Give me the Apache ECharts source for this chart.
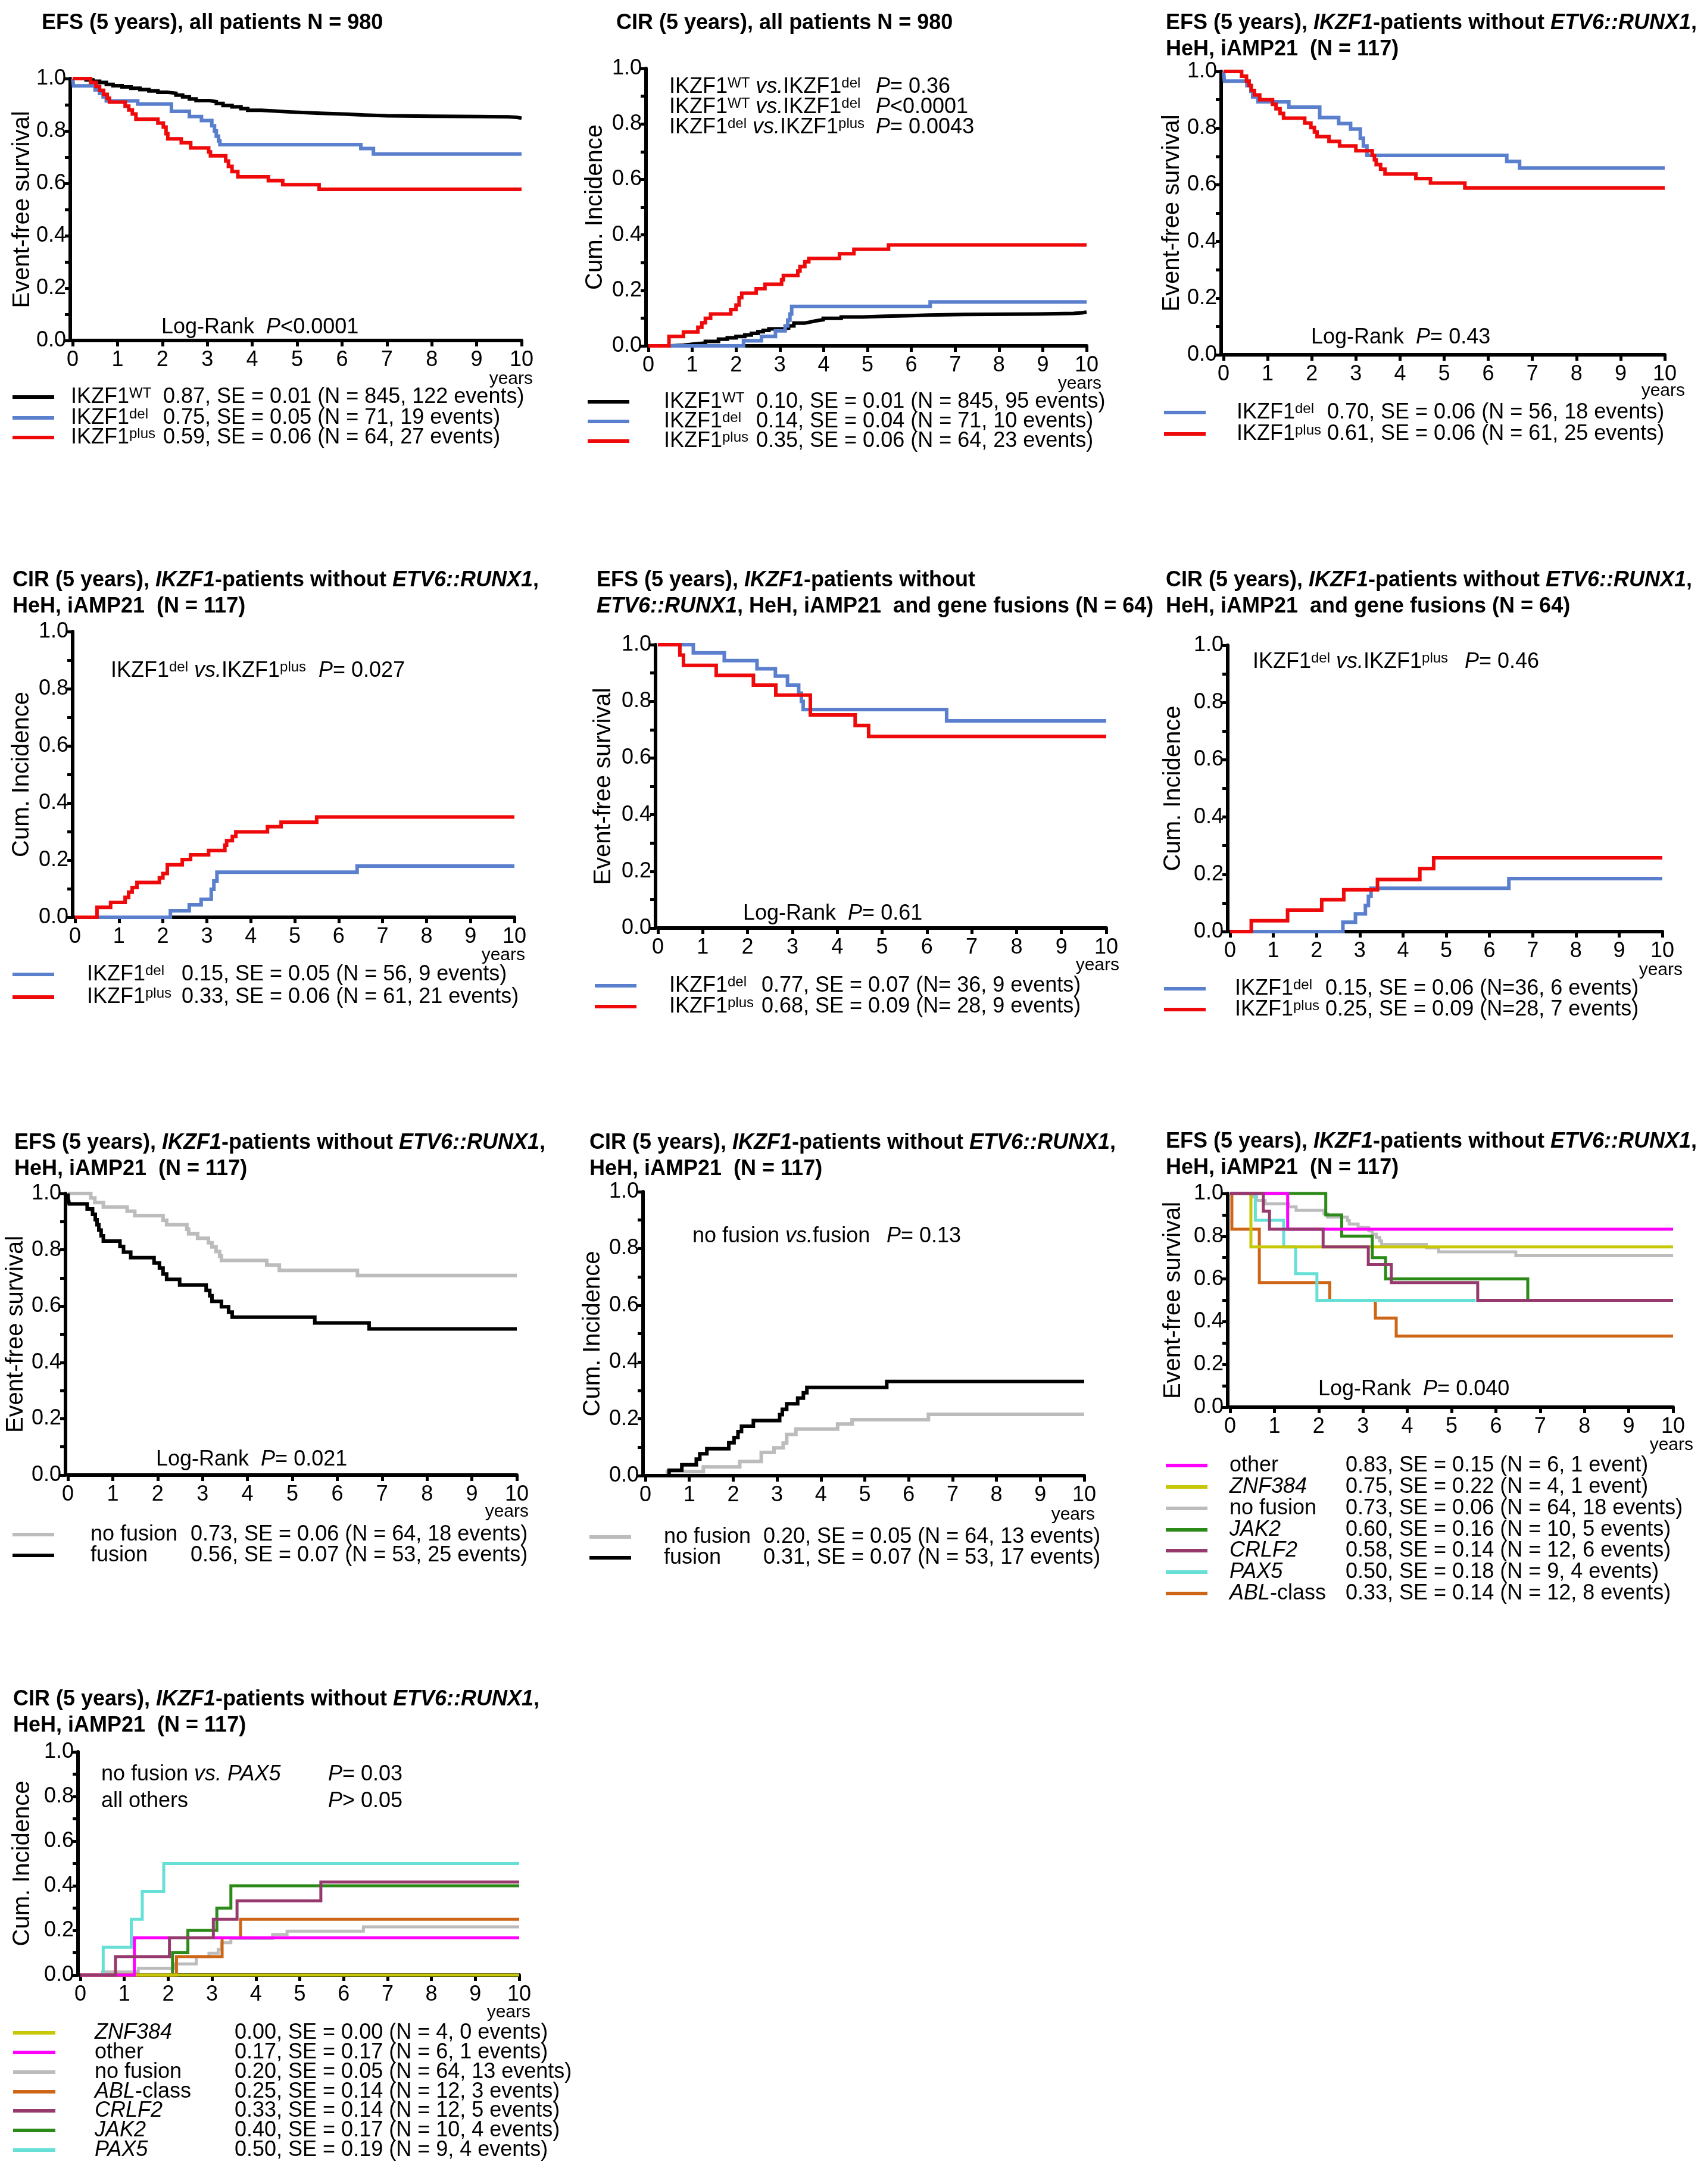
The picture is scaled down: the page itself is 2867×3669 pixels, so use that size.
<!DOCTYPE html>
<html><head><meta charset="utf-8">
<script src="https://cdn.jsdelivr.net/npm/echarts/dist/echarts.min.js"></script>
<style>html,body{margin:0;padding:0;background:#fff}#c{width:2867px;height:3669px}</style>
</head><body><div id="c"></div>
<script>
// ---------------- DATA (time in years, probability) ----------------
const xTicks = [0,1,2,3,4,5,6,7,8,9,10];
// Panel 1: EFS all patients
const efsAll_wt = [[0,1],[0.3,0.995],[0.45,0.99],[0.6,0.985],[0.75,0.978],[0.9,0.973],[1.1,0.968],[1.3,0.963],[1.5,0.958],[1.7,0.953],[1.9,0.948],[2.1,0.944],[2.3,0.937],[2.45,0.93],[2.6,0.922],[2.75,0.916],[3.05,0.912],[3.2,0.905],[3.35,0.897],[3.55,0.892],[3.75,0.885],[3.9,0.879],[4.2,0.876],[4.5,0.873],[4.8,0.87],[5.2,0.867],[5.6,0.864],[6.1,0.861],[6.5,0.858],[7.0,0.856],[8.0,0.855],[9.0,0.854],[9.7,0.852],[9.9,0.849],[10,0.849]];
const efsAll_del = [[0,1],[0.02,0.972],[0.5,0.957],[0.6,0.943],[0.68,0.93],[0.75,0.915],[1.45,0.903],[2.2,0.875],[2.6,0.855],[2.87,0.84],[3.1,0.82],[3.16,0.8],[3.2,0.78],[3.25,0.762],[3.28,0.748],[6.42,0.733],[6.7,0.712],[10,0.712]];
const efsAll_plus = [[0,1],[0.4,0.985],[0.52,0.97],[0.6,0.955],[0.69,0.94],[0.77,0.925],[0.82,0.91],[1.17,0.895],[1.25,0.88],[1.33,0.865],[1.41,0.845],[1.9,0.83],[2.02,0.815],[2.08,0.79],[2.12,0.77],[2.42,0.755],[2.63,0.735],[3.03,0.72],[3.07,0.705],[3.41,0.685],[3.47,0.665],[3.55,0.645],[3.68,0.625],[4.36,0.61],[4.68,0.595],[5.49,0.577],[10,0.577]];
// Panel 2: CIR all patients
const cirAll_wt = [[0,0],[0.5,0.002],[0.8,0.006],[1.0,0.01],[1.3,0.016],[1.6,0.024],[1.8,0.029],[2.0,0.034],[2.2,0.039],[2.35,0.045],[2.5,0.051],[2.62,0.056],[2.75,0.061],[3.08,0.064],[3.2,0.072],[3.32,0.082],[3.57,0.086],[3.7,0.09],[3.82,0.094],[3.99,0.099],[4.4,0.104],[4.9,0.107],[5.4,0.109],[6.0,0.111],[6.4,0.113],[7.2,0.115],[8.9,0.117],[9.7,0.119],[9.9,0.122],[10,0.122]];
const cirAll_del = [[0,0],[2.17,0.018],[2.58,0.034],[2.9,0.054],[3.12,0.072],[3.18,0.093],[3.23,0.115],[3.27,0.142],[6.43,0.158],[10,0.158]];
const cirAll_plus = [[0,0],[0.47,0.034],[0.8,0.05],[1.13,0.067],[1.22,0.083],[1.3,0.099],[1.42,0.115],[1.88,0.131],[2.0,0.147],[2.07,0.174],[2.13,0.19],[2.46,0.206],[2.66,0.222],[3.04,0.238],[3.08,0.254],[3.41,0.27],[3.46,0.286],[3.57,0.303],[3.66,0.315],[4.36,0.332],[4.69,0.348],[5.48,0.364],[10,0.364]];
// Panel 3: EFS N=117
const efs117_del = [[0,1],[0.02,0.966],[0.53,0.95],[0.62,0.93],[0.66,0.91],[0.78,0.893],[1.48,0.874],[2.18,0.837],[2.61,0.816],[2.88,0.797],[3.1,0.764],[3.17,0.737],[3.25,0.704],[6.42,0.682],[6.71,0.659],[10,0.659]];
const efs117_plus = [[0,1],[0.41,0.983],[0.52,0.966],[0.58,0.95],[0.63,0.933],[0.7,0.917],[0.82,0.9],[1.11,0.884],[1.19,0.868],[1.28,0.852],[1.36,0.835],[1.84,0.818],[1.98,0.802],[2.06,0.786],[2.12,0.77],[2.39,0.753],[2.63,0.737],[3.0,0.72],[3.37,0.704],[3.42,0.688],[3.46,0.671],[3.56,0.655],[3.66,0.638],[4.36,0.622],[4.69,0.606],[5.47,0.589],[10,0.589]];
// Panel 4: CIR N=117
const cir117_del = [[0,0],[2.17,0.023],[2.6,0.044],[2.87,0.063],[3.1,0.098],[3.16,0.127],[3.23,0.158],[6.42,0.179],[10,0.179]];
const cir117_plus = [[0,0],[0.5,0.035],[0.81,0.052],[1.14,0.07],[1.22,0.088],[1.3,0.104],[1.41,0.122],[1.92,0.138],[2.0,0.153],[2.1,0.184],[2.44,0.202],[2.63,0.219],[3.04,0.234],[3.41,0.252],[3.45,0.268],[3.58,0.283],[3.66,0.299],[4.38,0.317],[4.69,0.333],[5.5,0.351],[10,0.351]];
// Panel 5: EFS N=64
const efs64_del = [[0,1],[0.79,0.971],[1.48,0.944],[2.21,0.915],[2.62,0.889],[2.89,0.857],[3.14,0.829],[3.2,0.8],[3.24,0.771],[6.44,0.731],[10,0.731]];
const efs64_plus = [[0,1],[0.49,0.963],[0.57,0.927],[1.3,0.892],[2.13,0.857],[2.63,0.822],[3.4,0.752],[4.4,0.715],[4.7,0.676],[10,0.676]];
// Panel 6: CIR N=64
const cir64_del = [[0,0],[2.61,0.033],[2.9,0.062],[3.13,0.091],[3.2,0.123],[3.26,0.151],[6.45,0.185],[10,0.185]];
const cir64_plus = [[0,0],[0.49,0.038],[1.33,0.075],[2.12,0.111],[2.63,0.146],[3.41,0.182],[4.39,0.22],[4.71,0.258],[10,0.258]];
// Panel 7: EFS fusion vs no fusion
const efsFus_none = [[0,1],[0.51,0.984],[0.6,0.968],[0.79,0.952],[1.32,0.937],[1.49,0.921],[2.12,0.905],[2.2,0.889],[2.65,0.873],[2.69,0.857],[2.89,0.841],[3.13,0.825],[3.21,0.81],[3.3,0.794],[3.38,0.778],[3.42,0.762],[4.43,0.746],[4.71,0.727],[6.45,0.709],[10,0.709]];
const efsFus_fus = [[0,1],[0.01,0.981],[0.03,0.963],[0.43,0.945],[0.55,0.926],[0.61,0.907],[0.65,0.889],[0.69,0.87],[0.74,0.85],[0.79,0.831],[1.16,0.812],[1.24,0.792],[1.4,0.772],[1.92,0.753],[2.04,0.735],[2.12,0.714],[2.2,0.695],[2.49,0.675],[3.08,0.656],[3.16,0.637],[3.21,0.617],[3.42,0.598],[3.58,0.579],[3.66,0.561],[5.5,0.54],[6.71,0.519],[10,0.519]];
// Panel 8: CIR fusion vs no fusion
const cirFus_none = [[0,0],[0.5,0.014],[1.32,0.031],[2.15,0.05],[2.64,0.082],[2.93,0.098],[3.14,0.115],[3.22,0.145],[3.43,0.164],[4.38,0.182],[4.71,0.197],[6.45,0.216],[10,0.216]];
const cirFus_fus = [[0,0],[0.54,0.019],[0.83,0.038],[1.16,0.058],[1.24,0.077],[1.4,0.095],[1.9,0.116],[2.02,0.134],[2.11,0.155],[2.19,0.174],[2.46,0.194],[3.06,0.215],[3.12,0.234],[3.22,0.253],[3.47,0.273],[3.6,0.292],[3.68,0.311],[5.5,0.332],[10,0.332]];
// Panel 9: EFS by fusion subtype
const efsSub_other = [[0,1],[1.30,0.833],[10,0.833]];
const efsSub_znf = [[0,1],[0.47,0.75],[10,0.75]];
const efsSub_jak2 = [[0,1],[2.16,0.9],[2.52,0.8],[3.21,0.7],[3.51,0.6],[6.72,0.5]];
const efsSub_crlf2 = [[0,1],[0.75,0.917],[0.89,0.833],[2.1,0.75],[3.12,0.667],[3.64,0.583],[5.59,0.5],[10,0.5]];
const efsSub_pax5 = [[0,1],[0.57,0.875],[1.21,0.75],[1.48,0.625],[1.96,0.5],[5.54,0.5]];
const efsSub_abl = [[0,1],[0.04,0.833],[0.66,0.583],[2.25,0.5],[3.28,0.417],[3.75,0.333],[10,0.333]];
// Panel 10: CIR by fusion subtype
const cirSub_znf = [[0,0],[10,0]];
const cirSub_other = [[0,0],[1.23,0.167],[10,0.167]];
const cirSub_abl = [[0,0],[2.19,0.083],[3.23,0.167],[3.65,0.25],[10,0.25]];
const cirSub_crlf2 = [[0,0],[0.8,0.083],[2.03,0.167],[3.03,0.25],[3.57,0.333],[5.48,0.417],[10,0.417]];
const cirSub_jak2 = [[0,0],[2.1,0.1],[2.45,0.2],[3.11,0.3],[3.43,0.4],[10,0.4]];
const cirSub_pax5 = [[0,0],[0.52,0.125],[1.16,0.25],[1.41,0.375],[1.9,0.5],[10,0.5]];

// Legend entries: [colour key, label, value text]
const lg_efsAll = [['black','IKZF1{sup|WT}','0.87, SE = 0.01 (N = 845, 122 events)'],['blue','IKZF1{sup|del}','0.75, SE = 0.05 (N = 71, 19 events)'],['red','IKZF1{sup|plus}','0.59, SE = 0.06 (N = 64, 27 events)']];
const lg_cirAll = [['black','IKZF1{sup|WT}','0.10, SE = 0.01 (N = 845, 95 events)'],['blue','IKZF1{sup|del}','0.14, SE = 0.04 (N = 71, 10 events)'],['red','IKZF1{sup|plus}','0.35, SE = 0.06 (N = 64, 23 events)']];
const lg_efs117 = [['blue','IKZF1{sup|del}','0.70, SE = 0.06 (N = 56, 18 events)'],['red','IKZF1{sup|plus}','0.61, SE = 0.06 (N = 61, 25 events)']];
const lg_cir117 = [['blue','IKZF1{sup|del}','0.15, SE = 0.05 (N = 56, 9 events)'],['red','IKZF1{sup|plus}','0.33, SE = 0.06 (N = 61, 21 events)']];
const lg_efs64 = [['blue','IKZF1{sup|del}','0.77, SE = 0.07 (N= 36, 9 events)'],['red','IKZF1{sup|plus}','0.68, SE = 0.09 (N= 28, 9 events)']];
const lg_cir64 = [['blue','IKZF1{sup|del}','0.15, SE = 0.06 (N=36, 6 events)'],['red','IKZF1{sup|plus}','0.25, SE = 0.09 (N=28, 7 events)']];
const lg_efsFus = [['gray','no fusion','0.73, SE = 0.06 (N = 64, 18 events)'],['black','fusion','0.56, SE = 0.07 (N = 53, 25 events)']];
const lg_cirFus = [['gray','no fusion','0.20, SE = 0.05 (N = 64, 13 events)'],['black','fusion','0.31, SE = 0.07 (N = 53, 17 events)']];
const lg_efsSub = [['magenta','other','0.83, SE = 0.15 (N = 6, 1 event)'],['yellow','{i|ZNF384}','0.75, SE = 0.22 (N = 4, 1 event)'],['gray','no fusion','0.73, SE = 0.06 (N = 64, 18 events)'],['green','{i|JAK2}','0.60, SE = 0.16 (N = 10, 5 events)'],['purple','{i|CRLF2}','0.58, SE = 0.14 (N = 12, 6 events)'],['cyan','{i|PAX5}','0.50, SE = 0.18 (N = 9, 4 events)'],['orange','{i|ABL}-class','0.33, SE = 0.14 (N = 12, 8 events)']];
const lg_cirSub = [['yellow','{i|ZNF384}','0.00, SE = 0.00 (N = 4, 0 events)'],['magenta','other','0.17, SE = 0.17 (N = 6, 1 events)'],['gray','no fusion','0.20, SE = 0.05 (N = 64, 13 events)'],['orange','{i|ABL}-class','0.25, SE = 0.14 (N = 12, 3 events)'],['purple','{i|CRLF2}','0.33, SE = 0.14 (N = 12, 5 events)'],['green','{i|JAK2}','0.40, SE = 0.17 (N = 10, 4 events)'],['cyan','{i|PAX5}','0.50, SE = 0.19 (N = 9, 4 events)']];

// ---------------- STYLE / LAYOUT ----------------
const F = "'Liberation Sans', Arial, Helvetica, sans-serif";
const C = {black:'#000000', blue:'#5a7fcd', red:'#ee0a0a', gray:'#bcbcbc', magenta:'#ff00ff', yellow:'#c8c80a', green:'#2c8a18', purple:'#963a6e', cyan:'#66e0d6', orange:'#cd6616'};
const RICH = {
  bi:{fontSize:36, fontFamily:F, fontWeight:'bold', fontStyle:'italic', lineHeight:36},
  i:{fontSize:36, fontFamily:F, fontStyle:'italic', lineHeight:36},
  sup:{fontSize:24, fontFamily:F, lineHeight:24, verticalAlign:'top'}
};
const T_EFS = 'EFS (5 years), {bi|IKZF1}-patients without {bi|ETV6::RUNX1},';
const T_CIR = 'CIR (5 years), {bi|IKZF1}-patients without {bi|ETV6::RUNX1},';
const T_L2 = 'HeH, iAMP21  (N = 117)';
const VS_DP = 'IKZF1{sup|del} {i|vs.}IKZF1{sup|plus}';

const panels = [
 {grid:{left:122,top:132,width:754,height:440}, yName:'Event-free survival', nameX:38,
  series:[[efsAll_wt,'black'],[efsAll_del,'blue'],[efsAll_plus,'red']],
  title:['EFS (5 years), all patients N = 980'], tx:70, ty:39,
  notes:[[271,550,'Log-Rank  {i|P}<0.0001']], years:[895,637],
  lg:{x1:21,x2:91,lx:119,vx:274,rows:[667,702,735],items:lg_efsAll}},
 {grid:{left:1089,top:115,width:736,height:466}, yName:'Cum. Incidence', nameX:1000,
  series:[[cirAll_wt,'black'],[cirAll_del,'blue'],[cirAll_plus,'red']],
  title:['CIR (5 years), all patients N = 980'], tx:1035, ty:39,
  notes:[[1124,146,'IKZF1{sup|WT} {i|vs.}IKZF1{sup|del}'],[1471,146,'{i|P}= 0.36'],
         [1124,180,'IKZF1{sup|WT} {i|vs.}IKZF1{sup|del}'],[1471,180,'{i|P}<0.0001'],
         [1124,214,VS_DP],[1471,214,'{i|P}= 0.0043']], years:[1850,645],
  lg:{x1:987,x2:1057,lx:1115,vx:1270,rows:[675,708,741],items:lg_cirAll}},
 {grid:{left:2055,top:120,width:741,height:476}, yName:'Event-free survival', nameX:1969,
  series:[[efs117_del,'blue'],[efs117_plus,'red']],
  title:[T_EFS,T_L2], tx:1958, ty:39,
  notes:[[2202,567,'Log-Rank  {i|P}= 0.43']], years:[2830,657],
  lg:{x1:1955,x2:2025,lx:2077,vx:2229,rows:[693,729],items:lg_efs117}},
 {grid:{left:126,top:1061,width:738,height:480}, yName:'Cum. Incidence', nameX:37,
  series:[[cir117_del,'blue'],[cir117_plus,'red']],
  title:[T_CIR,T_L2], tx:21, ty:975,
  notes:[[186,1127,VS_DP],[535,1127,'{i|P}= 0.027']], years:[882,1605],
  lg:{x1:21,x2:91,lx:146,vx:305,rows:[1637,1675],items:lg_cir117}},
 {grid:{left:1105,top:1083,width:753,height:476}, yName:'Event-free survival', nameX:1014,
  series:[[efs64_del,'blue'],[efs64_plus,'red']],
  title:['EFS (5 years), {bi|IKZF1}-patients without','{bi|ETV6::RUNX1}, HeH, iAMP21  and gene fusions (N = 64)'], tx:1002, ty:975,
  notes:[[1248,1535,'Log-Rank  {i|P}= 0.61']], years:[1880,1622],
  lg:{x1:999,x2:1069,lx:1124,vx:1279,rows:[1656,1691],items:lg_efs64}},
 {grid:{left:2066,top:1084,width:726,height:481}, yName:'Cum. Incidence', nameX:1971,
  series:[[cir64_del,'blue'],[cir64_plus,'red']],
  title:[T_CIR,'HeH, iAMP21  and gene fusions (N = 64)'], tx:1958, ty:975,
  notes:[[2104,1112,VS_DP],[2460,1112,'{i|P}= 0.46']], years:[2826,1630],
  lg:{x1:1955,x2:2025,lx:2074,vx:2226,rows:[1661,1696],items:lg_cir64}},
 {grid:{left:114,top:2005,width:754,height:473}, yName:'Event-free survival', nameX:27,
  series:[[efsFus_none,'gray'],[efsFus_fus,'black']],
  title:[T_EFS,T_L2], tx:24, ty:1920,
  notes:[[262,2452,'Log-Rank  {i|P}= 0.021']], years:[888,2540],
  lg:{x1:21,x2:91,lx:152,vx:320,rows:[2578,2613],items:lg_efsFus}},
 {grid:{left:1084,top:2002,width:737,height:477}, yName:'Cum. Incidence', nameX:996,
  series:[[cirFus_none,'gray'],[cirFus_fus,'black']],
  title:[T_CIR,T_L2], tx:990, ty:1920,
  notes:[[1163,2077,'no fusion {i|vs.}fusion'],[1489,2077,'{i|P}= 0.13']], years:[1839,2545],
  lg:{x1:990,x2:1060,lx:1115,vx:1282,rows:[2582,2617],items:lg_cirFus}},
 {grid:{left:2066,top:2005,width:744,height:359}, yName:'Event-free survival', nameX:1971, lw:5,
  series:[[efsFus_none,'gray'],[efsSub_abl,'orange'],[efsSub_pax5,'cyan'],[efsSub_znf,'yellow'],[efsSub_jak2,'green'],[efsSub_other,'magenta'],[efsSub_crlf2,'purple']],
  title:[T_EFS,T_L2], tx:1958, ty:1918,
  notes:[[2214,2334,'Log-Rank  {i|P}= 0.040']], years:[2844,2428],
  lg:{x1:1958,x2:2028,lx:2065,vx:2260,rows:[2462,2498,2534,2570,2605,2641,2677],items:lg_efsSub}},
 {grid:{left:135,top:2943,width:737,height:375}, yName:'Cum. Incidence', nameX:38, lw:5,
  series:[[cirFus_none,'gray'],[cirSub_pax5,'cyan'],[cirSub_jak2,'green'],[cirSub_abl,'orange'],[cirSub_znf,'yellow'],[cirSub_other,'magenta'],[cirSub_crlf2,'purple']],
  title:[T_CIR,T_L2], tx:22, ty:2855,
  notes:[[170,2981,'no fusion {i|vs. PAX5}'],[551,2981,'{i|P}= 0.03'],[170,3026,'all others'],[551,3026,'{i|P}> 0.05']], years:[891,3381],
  lg:{x1:22,x2:93,lx:159,vx:394,rows:[3415,3448,3481,3514,3546,3579,3612],items:lg_cirSub}}
];

function txt(x, y, text, o) {
  o = o || {};
  return {type:'text', x:x, y:y, rotation:o.rot||0, silent:true, z:100,
    style:{text:text, fontSize:o.size||36, fontFamily:F, fontWeight:o.bold?'bold':'normal',
      fill:'#000', align:o.align||'left', textAlign:o.align||'left',
      verticalAlign:'middle', textVerticalAlign:'middle', lineHeight:o.size||36, rich:RICH}};
}

const option = {animation:false, backgroundColor:'#ffffff', grid:[], xAxis:[], yAxis:[], series:[], graphic:{elements:[]}};
const G = option.graphic.elements;
panels.forEach(function(p, i) {
  option.grid.push(Object.assign({outerBoundsMode:'none', containLabel:false}, p.grid));
  option.xAxis.push({type:'value', gridIndex:i, min:xTicks[0], max:xTicks[xTicks.length-1], interval:1,
    axisLine:{show:true, onZero:false, lineStyle:{color:'#000', width:6}},
    axisTick:{show:true, inside:false, length:10, lineStyle:{color:'#000', width:5}},
    axisLabel:{show:true, color:'#000', fontSize:36, fontFamily:F, margin:15},
    splitLine:{show:false}});
  option.yAxis.push({type:'value', gridIndex:i, min:0, max:1, interval:0.2, offset:4,
    axisLine:{show:true, onZero:false, lineStyle:{color:'#000', width:6}},
    axisTick:{show:true, inside:false, length:9, lineStyle:{color:'#000', width:5}},
    minorTick:{show:true, splitNumber:2, length:9, lineStyle:{color:'#000', width:5}},
    axisLabel:{show:true, color:'#000', fontSize:36, fontFamily:F, margin:7, formatter:function(v){return v.toFixed(1);}},
    splitLine:{show:false}, minorSplitLine:{show:false}});
  p.series.forEach(function(s, k) {
    option.series.push({type:'line', xAxisIndex:i, yAxisIndex:i, data:s[0], step:'end',
      symbol:'none', showSymbol:false, clip:false, silent:true, z:2+k*0.01,
      lineStyle:{color:C[s[1]], width:p.lw||6, join:'miter'}, itemStyle:{color:C[s[1]]}});
  });
  p.title.forEach(function(t, k) { G.push(txt(p.tx, p.ty + k*44, t, {bold:true})); });
  p.notes.forEach(function(n) { G.push(txt(n[0], n[1], n[2])); });
  G.push(txt(p.nameX, p.grid.top + p.grid.height/2, p.yName, {size:40, align:'center', rot:Math.PI/2}));
  G.push(txt(p.years[0], p.years[1], 'years', {size:30, align:'right'}));
  p.lg.items.forEach(function(it, k) {
    const y = p.lg.rows[k];
    G.push({type:'line', silent:true, z:100, shape:{x1:p.lg.x1, y1:y, x2:p.lg.x2, y2:y}, style:{stroke:C[it[0]], lineWidth:6}});
    G.push(txt(p.lg.lx, y, it[1]));
    G.push(txt(p.lg.vx, y, it[2]));
  });
});

const chart = echarts.init(document.getElementById('c'), null, {renderer:'canvas'});
chart.setOption(option);
</script></body></html>
